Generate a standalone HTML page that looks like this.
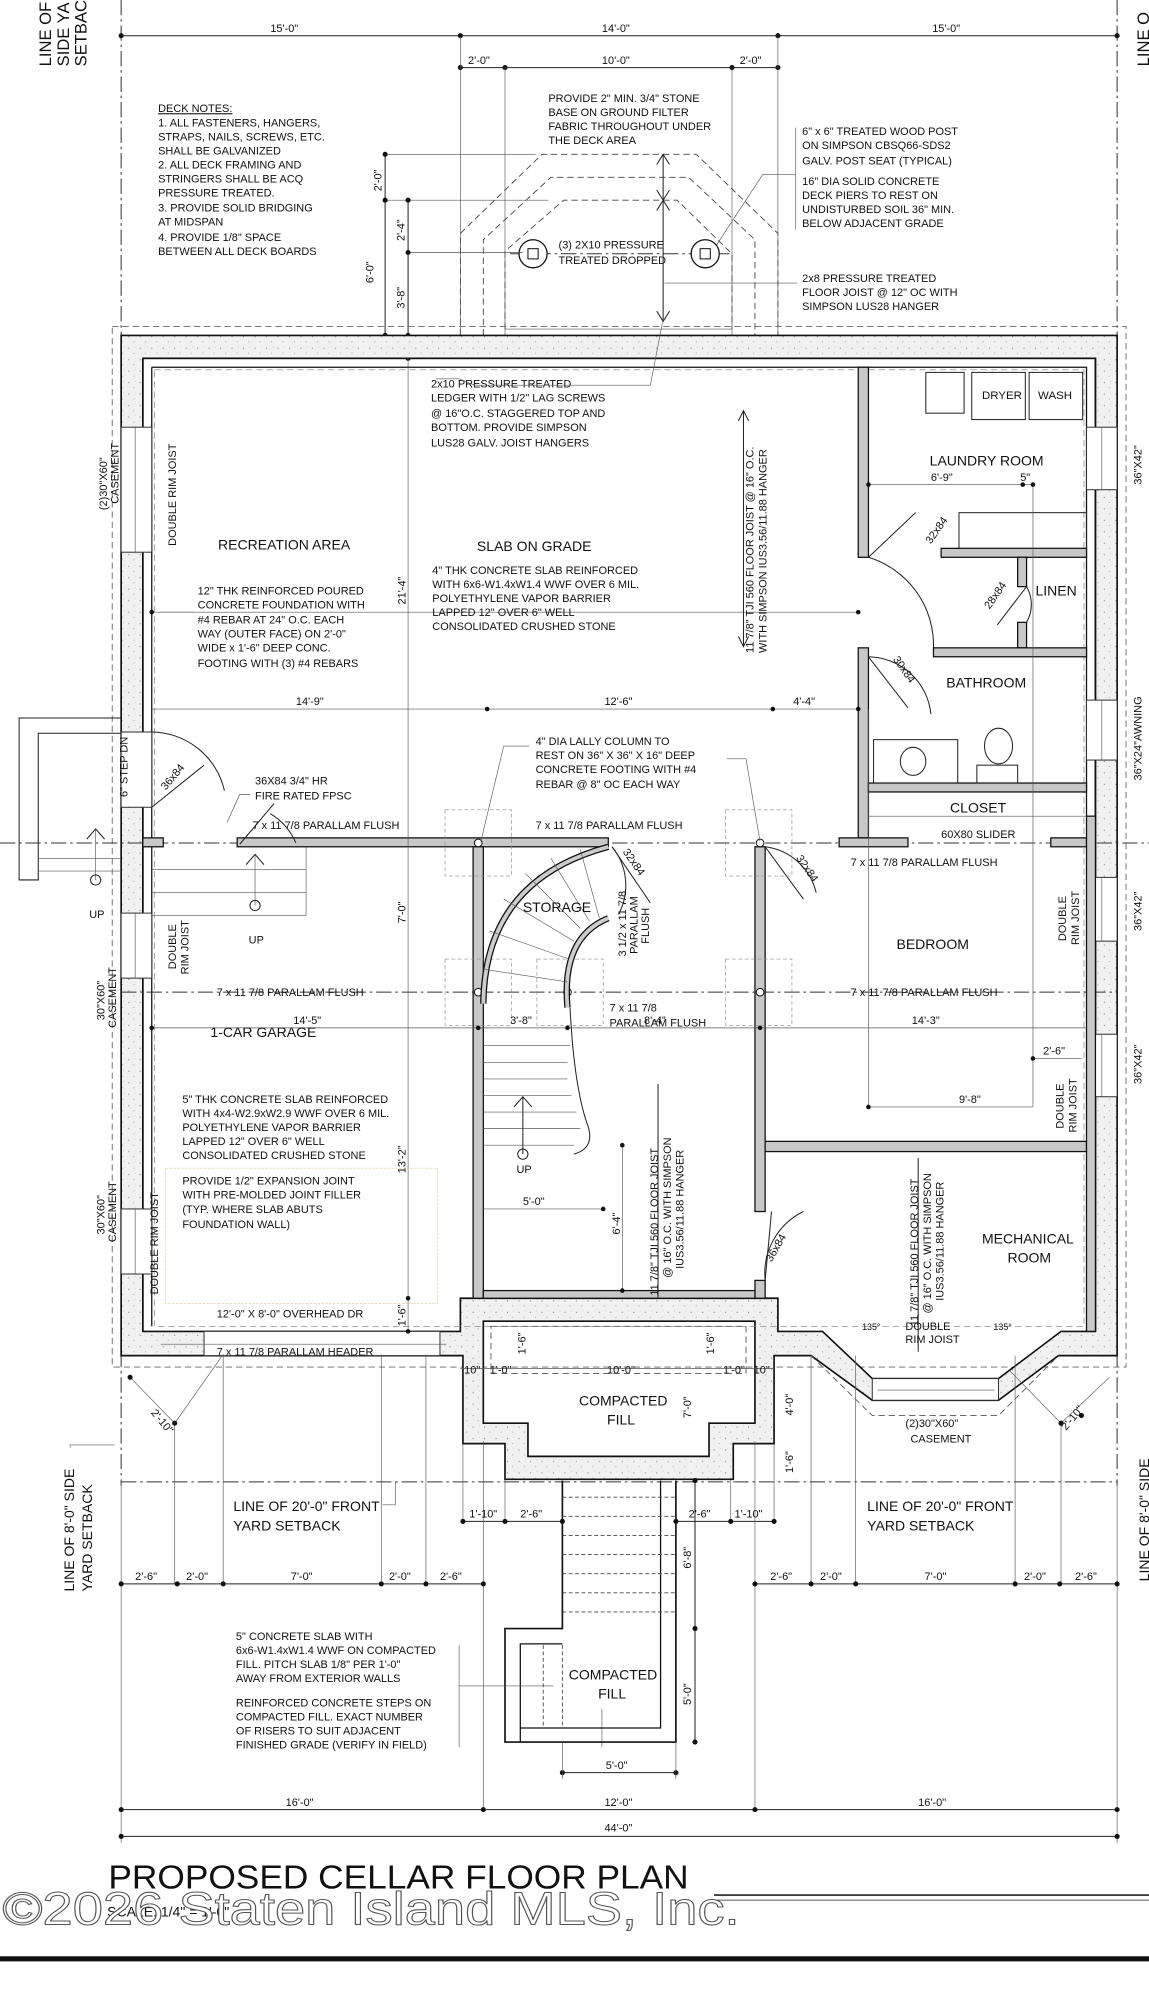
<!DOCTYPE html>
<html><head><meta charset="utf-8"><style>
html,body{margin:0;padding:0;background:#fff}
svg{display:block}
text{font-family:"Liberation Sans Narrow","Liberation Sans",sans-serif;fill:#111}
.n{font-size:8.6px}
.r{font-size:11px}
.d{font-size:8.6px}
.ln{stroke:#222;stroke-width:0.8;fill:none}
.th{stroke:#555;stroke-width:0.5;fill:none}
.dash{stroke:#444;stroke-width:0.7;fill:none;stroke-dasharray:5 3}
.dd{stroke:#333;stroke-width:0.8;fill:none;stroke-dasharray:12 3 2 3}
.w{fill:#c8c8c8;stroke:#111;stroke-width:1}
</style></head><body>
<svg width="1149" height="1999" viewBox="0 0 901 1567.5" preserveAspectRatio="none" xmlns="http://www.w3.org/2000/svg">
<defs>
<pattern id="stip" width="9" height="9" patternUnits="userSpaceOnUse">
<rect width="9" height="9" fill="#f1f1f1"/>
<circle cx="2" cy="3" r="0.5" fill="#888"/><circle cx="6" cy="7" r="0.4" fill="#999"/><circle cx="7" cy="2" r="0.3" fill="#aaa"/>
</pattern>
</defs>
<rect width="901" height="1567.5" fill="#fff"/>

<line x1="95" y1="0" x2="95" y2="1165" class="dd"/>
<line x1="876" y1="0" x2="876" y2="1165" class="dd"/>
<text transform="translate(40,52) rotate(-90)" style="font-size:13px;font-family:'Liberation Sans',sans-serif">LINE OF</text>
<text transform="translate(54,52) rotate(-90)" style="font-size:13px;font-family:'Liberation Sans',sans-serif">SIDE YA</text>
<text transform="translate(68,52) rotate(-90)" style="font-size:13px;font-family:'Liberation Sans',sans-serif">SETBAC</text>
<text transform="translate(901,52) rotate(-90)" style="font-size:13px;font-family:'Liberation Sans',sans-serif">LINE O</text>

<line x1="95" y1="28" x2="876" y2="28" class="ln"/>
<g fill="#111"><circle cx="95" cy="28" r="2"/><circle cx="361" cy="28" r="2"/><circle cx="610" cy="28" r="2"/><circle cx="876" cy="28" r="2"/>
<circle cx="361" cy="53" r="2"/><circle cx="396" cy="53" r="2"/><circle cx="574" cy="53" r="2"/><circle cx="610" cy="53" r="2"/></g>
<text x="212" y="25" class="d">15'-0"</text><text x="472" y="25" class="d">14'-0"</text><text x="731" y="25" class="d">15'-0"</text>
<line x1="361" y1="53" x2="610" y2="53" class="ln"/>
<text x="367" y="50" class="d">2'-0"</text><text x="472" y="50" class="d">10'-0"</text><text x="580" y="50" class="d">2'-0"</text>
<g class="th"><line x1="361" y1="28" x2="361" y2="263"/><line x1="396" y1="53" x2="396" y2="263"/><line x1="574" y1="53" x2="574" y2="263"/><line x1="610" y1="28" x2="610" y2="263"/></g>

<g class="n">
<text x="124" y="88" style="text-decoration:underline">DECK NOTES:</text>
<text x="124" y="99">1.  ALL FASTENERS, HANGERS,</text>
<text x="124" y="110">STRAPS, NAILS, SCREWS, ETC.</text>
<text x="124" y="121">SHALL BE GALVANIZED</text>
<text x="124" y="132">2. ALL DECK FRAMING AND</text>
<text x="124" y="143">STRINGERS SHALL BE ACQ</text>
<text x="124" y="154">PRESSURE TREATED.</text>
<text x="124" y="166">3.  PROVIDE SOLID BRIDGING</text>
<text x="124" y="177">AT MIDSPAN</text>
<text x="124" y="189">4.  PROVIDE 1/8" SPACE</text>
<text x="124" y="200">BETWEEN ALL DECK BOARDS</text>
<text x="430" y="80">PROVIDE 2" MIN. 3/4" STONE</text>
<text x="430" y="91">BASE ON GROUND FILTER</text>
<text x="430" y="102">FABRIC THROUGHOUT UNDER</text>
<text x="430" y="113">THE DECK AREA</text>
<text x="629" y="106">6" x 6" TREATED WOOD POST</text>
<text x="629" y="117">ON SIMPSON CBSQ66-SDS2</text>
<text x="629" y="129">GALV. POST SEAT (TYPICAL)</text>
<text x="629" y="145">16" DIA SOLID CONCRETE</text>
<text x="629" y="156">DECK PIERS TO REST ON</text>
<text x="629" y="167">UNDISTURBED SOIL 36" MIN.</text>
<text x="629" y="178">BELOW ADJACENT GRADE</text>
<text x="629" y="221">2x8 PRESSURE TREATED</text>
<text x="629" y="232">FLOOR JOIST @ 12" OC WITH</text>
<text x="629" y="243">SIMPSON LUS28 HANGER</text>
<text x="438" y="195">(3) 2X10 PRESSURE</text>
<text x="438" y="207">TREATED DROPPED</text>
</g>
<line x1="624" y1="100" x2="624" y2="180" class="th"/>
<polyline points="624,137 598,137 560,195" class="th"/>
<line x1="521" y1="222" x2="625" y2="222" class="th"/>

<polyline points="361,263 361,183 425,121 546,121 610,183 610,263" class="dash"/>
<polyline points="379,263 379,188 432,139 540,139 592,188 592,263" class="dash"/>
<polyline points="396,258 396,197 442,157 531,157 574,199 574,258" class="dash"/>
<line x1="396" y1="258" x2="574" y2="258" class="th"/>
<line x1="400" y1="199" x2="575" y2="199" class="dd"/>
<g stroke="#111" stroke-width="1" fill="#fff"><circle cx="418" cy="199" r="11"/><circle cx="553" cy="199" r="11"/></g>
<g stroke="#111" stroke-width="0.8" fill="none"><rect x="414" y="195" width="8" height="8"/><rect x="549" y="195" width="8" height="8"/></g>
<line x1="520" y1="121" x2="520" y2="252" class="ln"/>
<g class="ln"><polyline points="515,129 520,121 525,129"/><polyline points="515,149 520,157 525,149"/><polyline points="515,165 520,157 525,165"/><polyline points="515,244 520,252 525,244"/></g>
<line x1="302" y1="121" x2="302" y2="263" class="ln"/><line x1="320" y1="157" x2="320" y2="263" class="ln"/>
<line x1="302" y1="121" x2="420" y2="121" class="th"/><line x1="302" y1="157" x2="430" y2="157" class="th"/><line x1="320" y1="198" x2="410" y2="198" class="th"/>
<g fill="#111"><circle cx="302" cy="121" r="2"/><circle cx="302" cy="157" r="2"/><circle cx="302" cy="263" r="2"/><circle cx="320" cy="157" r="2"/><circle cx="320" cy="198" r="2"/><circle cx="320" cy="263" r="2"/><circle cx="320" cy="281" r="2"/></g>
<text transform="translate(299,150) rotate(-90)" class="d">2'-0"</text>
<text transform="translate(293,222) rotate(-90)" class="d">6'-0"</text>
<text transform="translate(317,189) rotate(-90)" class="d">2'-4"</text>
<text transform="translate(317,242) rotate(-90)" class="d">3'-8"</text>

<rect x="88" y="256" width="795" height="816" class="dash" style="stroke:#666"/>
<path fill-rule="evenodd" fill="url(#stip)" stroke="#111" stroke-width="1.3" d="M95,263 H876 V1063 H830 L783,1098 H684 L636,1063 H607 V1132 H575 V1160 H396 V1132 H363 V1063 H95 Z M112,281 H859 V1044 H832 L783,1081 H684 L645,1044 H610 V1018 H361 V1044 H112 Z M379,1036 H592 V1116 H556 V1142 H414 V1116 H379 Z"/>
<path d="M112,281 H859 V1044 M112,281 V1044" stroke="#111" stroke-width="1.2" fill="none"/>
<path d="M119,288 H852 V640 M119,288 V1040" stroke="#111" stroke-width="1" fill="none"/>
<rect x="121" y="290" width="729" height="750" class="dash" style="stroke:#777;stroke-width:0.5"/>

<g fill="#fff" stroke="#333" stroke-width="0.8">
<rect x="95" y="335" width="24" height="98"/><rect x="95" y="716" width="24" height="51"/><rect x="95" y="948" width="24" height="51"/>
<rect x="95" y="574" width="24" height="59"/>
<rect x="852" y="335" width="24" height="49"/><rect x="852" y="549" width="24" height="47"/><rect x="852" y="688" width="24" height="50"/><rect x="852" y="811" width="24" height="49"/>
<rect x="684" y="1081" width="99" height="17"/>
<rect x="160" y="1044" width="185" height="19"/>
</g>
<g class="th"><line x1="106" y1="335" x2="106" y2="433"/><line x1="106" y1="716" x2="106" y2="767"/><line x1="106" y1="948" x2="106" y2="999"/><line x1="864" y1="335" x2="864" y2="384"/><line x1="864" y1="549" x2="864" y2="596"/><line x1="864" y1="688" x2="864" y2="738"/><line x1="864" y1="811" x2="864" y2="860"/><line x1="688" y1="1090" x2="780" y2="1090"/><line x1="126" y1="1054" x2="350" y2="1054"/></g>

<line x1="0" y1="661" x2="901" y2="661" class="dd"/>
<line x1="95" y1="778" x2="876" y2="778" class="dd"/>

<g class="w">
<rect x="673" y="288" width="8" height="149"/><rect x="673" y="508" width="8" height="149"/>
<rect x="738" y="430" width="114" height="7"/><rect x="798" y="437" width="7" height="23"/><rect x="798" y="488" width="7" height="20"/>
<rect x="732" y="508" width="120" height="7"/><rect x="681" y="614" width="171" height="7"/>
<rect x="658" y="657" width="54" height="7"/><rect x="824" y="657" width="28" height="7"/>
<rect x="112" y="657" width="16" height="7"/><rect x="186" y="657" width="291" height="7"/>
<rect x="371" y="664" width="8" height="354"/><rect x="592" y="664" width="8" height="286"/><rect x="592" y="1004" width="8" height="14"/>
<rect x="379" y="1012" width="213" height="6"/><rect x="600" y="895" width="252" height="8"/>
<rect x="852" y="640" width="7" height="404"/>
</g>
<line x1="681" y1="640" x2="852" y2="640" class="th"/>
<g class="ln"><rect x="726" y="292" width="30" height="32"/><rect x="762" y="292" width="42" height="37"/><rect x="807" y="292" width="42" height="37"/><rect x="752" y="402" width="100" height="28"/><rect x="685" y="580" width="66" height="34"/><rect x="766" y="600" width="32" height="14"/><ellipse cx="783" cy="585" rx="11" ry="14"/><ellipse cx="716" cy="597" rx="10" ry="11"/></g>
<g class="ln">
<path d="M681,437 A72,72 0 0 1 732,508"/><line x1="681" y1="437" x2="718" y2="402"/>
<path d="M805,460 A28,28 0 0 1 805,488"/><line x1="805" y1="460" x2="782" y2="490"/>
<path d="M681,515 A50,50 0 0 1 730,560"/><line x1="681" y1="515" x2="712" y2="555"/>
<path d="M119,574 A59,59 0 0 1 176,620"/><line x1="119" y1="633" x2="160" y2="600"/>
<path d="M212,638 A49,49 0 0 1 232,661"/><line x1="188" y1="662" x2="215" y2="630"/>
<path d="M480,664 A48,48 0 0 1 485,717"/><line x1="480" y1="664" x2="510" y2="708"/>
<path d="M600,664 A47,47 0 0 1 640,700"/><line x1="600" y1="664" x2="630" y2="705"/>
<path d="M600,1004 A54,54 0 0 1 630,950"/><line x1="600" y1="1004" x2="605" y2="950"/>
</g>
<g class="ln" stroke-width="1.2">
<polyline points="95,563 15,563 15,690 30,690 30,575 95,575"/>
</g>
<g class="th"><line x1="30" y1="673" x2="95" y2="673"/><line x1="30" y1="683" x2="95" y2="683"/><line x1="119" y1="700" x2="240" y2="700"/><line x1="119" y1="682" x2="240" y2="682"/><line x1="240" y1="664" x2="240" y2="718"/><line x1="119" y1="718" x2="240" y2="718"/><line x1="75" y1="650" x2="75" y2="690"/><line x1="200" y1="670" x2="200" y2="710"/></g>
<g class="ln"><polyline points="68,658 75,650 82,658"/><polyline points="193,678 200,670 207,678"/><circle cx="75" cy="690" r="4"/><circle cx="200" cy="710" r="4"/></g>
<text x="70" y="720" class="n">UP</text><text x="195" y="740" class="n">UP</text>
<text transform="translate(100,625) rotate(-90)" class="n">6" STEP DN</text>

<g class="dash" style="stroke:#888;stroke-width:0.5;stroke-dasharray:3 2">
<rect x="349" y="635" width="52" height="52"/><rect x="569" y="635" width="52" height="52"/>
<rect x="349" y="752" width="52" height="52"/><rect x="421" y="752" width="52" height="52"/><rect x="569" y="752" width="52" height="52"/>
</g>
<g stroke="#111" fill="#fff" stroke-width="0.8"><circle cx="375" cy="661" r="3"/><circle cx="596" cy="661" r="3"/><circle cx="375" cy="778" r="3"/><circle cx="445" cy="778" r="3"/><circle cx="596" cy="778" r="3"/></g>

<path d="M379,787 Q380,690 477,664" stroke="#111" stroke-width="5" fill="none"/>
<path d="M379,787 Q380,690 477,664" stroke="#ccc" stroke-width="3" fill="none"/>
<path d="M445,790 Q440,735 477,720" stroke="#111" stroke-width="5" fill="none"/>
<path d="M445,790 Q440,735 477,720" stroke="#ccc" stroke-width="3" fill="none"/>
<g class="th"><line x1="379" y1="760" x2="445" y2="770"/><line x1="384" y1="730" x2="446" y2="752"/><line x1="395" y1="705" x2="450" y2="738"/><line x1="412" y1="685" x2="455" y2="728"/><line x1="432" y1="673" x2="462" y2="722"/><line x1="455" y1="666" x2="470" y2="720"/>
<line x1="379" y1="820" x2="447" y2="820"/><line x1="379" y1="833" x2="445" y2="833"/><line x1="379" y1="846" x2="445" y2="846"/><line x1="379" y1="859" x2="448" y2="859"/><line x1="379" y1="872" x2="452" y2="872"/><line x1="379" y1="885" x2="455" y2="885"/><line x1="379" y1="898" x2="450" y2="898"/></g>
<path d="M447,790 Q450,850 460,880 Q468,900 450,905" class="ln"/>
<line x1="410" y1="860" x2="410" y2="905" class="ln"/><polyline points="403,868 410,860 417,868" class="ln"/><circle cx="410" cy="905" r="4" class="ln"/>
<text x="405" y="920" class="n">UP</text>

<g class="th">
<line x1="119" y1="556" x2="673" y2="556"/><line x1="119" y1="480" x2="673" y2="480"/>
<line x1="119" y1="806" x2="852" y2="806"/>
<line x1="681" y1="380" x2="810" y2="380"/>
<line x1="681" y1="868" x2="810" y2="868"/>
<line x1="810" y1="830" x2="848" y2="830"/>
<line x1="320" y1="281" x2="320" y2="1044"/>
<line x1="379" y1="948" x2="473" y2="948"/>
<line x1="488" y1="898" x2="488" y2="1012"/>
<line x1="810" y1="380" x2="810" y2="868"/><line x1="681" y1="556" x2="681" y2="868"/>
</g>
<g fill="#111"><circle cx="119" cy="480" r="1.8"/><circle cx="673" cy="480" r="1.8"/><circle cx="382" cy="556" r="1.8"/><circle cx="606" cy="556" r="1.8"/><circle cx="673" cy="556" r="1.8"/>
<circle cx="119" cy="806" r="1.8"/><circle cx="375" cy="806" r="1.8"/><circle cx="445" cy="806" r="1.8"/><circle cx="596" cy="806" r="1.8"/>
<circle cx="681" cy="380" r="1.8"/><circle cx="802" cy="380" r="1.8"/><circle cx="810" cy="380" r="1.8"/><circle cx="681" cy="868" r="1.8"/><circle cx="810" cy="830" r="1.8"/>
<circle cx="473" cy="948" r="1.8"/><circle cx="488" cy="898" r="1.8"/><circle cx="488" cy="1012" r="1.8"/><circle cx="320" cy="1044" r="1.8"/><circle cx="320" cy="1018" r="1.8"/></g>
<g class="d">
<text x="232" y="553">14'-9"</text><text x="474" y="553">12'-6"</text><text x="622" y="553">4'-4"</text>
<text x="230" y="803">14'-5"</text><text x="400" y="803">3'-8"</text><text x="505" y="803">8'-4"</text><text x="715" y="803">14'-3"</text>
<text x="730" y="377">6'-9"</text><text x="800" y="377">5"</text>
<text x="752" y="865">9'-8"</text><text x="818" y="827">2'-6"</text><text x="410" y="945">5'-0"</text>
<text transform="translate(318,474) rotate(-90)">21'-4"</text>
<text transform="translate(318,724) rotate(-90)">7'-0"</text>
<text transform="translate(318,920) rotate(-90)">13'-2"</text>
<text transform="translate(486,968) rotate(-90)">6'-4"</text>
<text transform="translate(318,1040) rotate(-90)">1'-6"</text>
</g>

<g class="r">
<text x="171" y="431">RECREATION AREA</text><text x="374" y="432">SLAB ON GRADE</text>
<text x="729" y="365">LAUNDRY ROOM</text><text x="812" y="467">LINEN</text><text x="742" y="539">BATHROOM</text>
<text x="745" y="637">CLOSET</text><text x="410" y="715">STORAGE</text><text x="703" y="744">BEDROOM</text>
<text x="165" y="813">1-CAR GARAGE</text><text x="770" y="975">MECHANICAL</text><text x="790" y="990">ROOM</text>
<text x="454" y="1102">COMPACTED</text><text x="476" y="1117">FILL</text>
<text x="446" y="1317">COMPACTED</text><text x="469" y="1332">FILL</text>
<text x="770" y="313" style="font-size:9px">DRYER</text><text x="814" y="313" style="font-size:9px">WASH</text>
</g>
<g class="n">
<text x="338" y="304">2x10 PRESSURE TREATED</text><text x="338" y="315">LEDGER WITH 1/2" LAG SCREWS</text><text x="338" y="327">@ 16"O.C. STAGGERED TOP AND</text><text x="338" y="338">BOTTOM. PROVIDE SIMPSON</text><text x="338" y="350">LUS28 GALV. JOIST HANGERS</text>
<text x="339" y="450">4" THK CONCRETE SLAB REINFORCED</text><text x="339" y="461">WITH 6x6-W1.4xW1.4 WWF OVER 6 MIL.</text><text x="339" y="472">POLYETHYLENE VAPOR BARRIER</text><text x="339" y="483">LAPPED 12" OVER 6" WELL</text><text x="339" y="494">CONSOLIDATED CRUSHED STONE</text>
<text x="155" y="466">12" THK REINFORCED POURED</text><text x="155" y="477">CONCRETE FOUNDATION WITH</text><text x="155" y="489">#4 REBAR AT 24" O.C. EACH</text><text x="155" y="500">WAY (OUTER FACE) ON 2'-0"</text><text x="155" y="511">WIDE x 1'-6" DEEP CONC.</text><text x="155" y="523">FOOTING WITH (3) #4 REBARS</text>
<text x="420" y="584">4" DIA LALLY COLUMN TO</text><text x="420" y="595">REST ON 36" X 36" X 16" DEEP</text><text x="420" y="606">CONCRETE FOOTING WITH #4</text><text x="420" y="618">REBAR @ 8" OC EACH WAY</text>
<text x="200" y="615">36X84 3/4" HR</text><text x="200" y="627">FIRE RATED FPSC</text>
<text x="198" y="650">7 x 11 7/8 PARALLAM FLUSH</text><text x="420" y="650">7 x 11 7/8 PARALLAM FLUSH</text>
<text x="667" y="679">7 x 11 7/8 PARALLAM FLUSH</text><text x="738" y="657">60X80 SLIDER</text>
<text x="170" y="781">7 x 11 7/8 PARALLAM FLUSH</text><text x="667" y="781">7 x 11 7/8 PARALLAM FLUSH</text>
<text x="478" y="793">7 x 11 7/8</text><text x="478" y="805">PARALLAM FLUSH</text>
<text x="143" y="865">5" THK CONCRETE SLAB REINFORCED</text><text x="143" y="876">WITH 4x4-W2.9xW2.9 WWF OVER 6 MIL.</text><text x="143" y="887">POLYETHYLENE VAPOR BARRIER</text><text x="143" y="898">LAPPED 12" OVER 6" WELL</text><text x="143" y="909">CONSOLIDATED CRUSHED STONE</text>
<text x="143" y="929">PROVIDE 1/2" EXPANSION JOINT</text><text x="143" y="940">WITH PRE-MOLDED JOINT FILLER</text><text x="143" y="951">(TYP. WHERE SLAB ABUTS</text><text x="143" y="963">FOUNDATION WALL)</text>
<text x="170" y="1033">12'-0" X 8'-0" OVERHEAD DR</text><text x="170" y="1063">7 x 11 7/8 PARALLAM HEADER</text>
<text x="710" y="1043">DOUBLE</text><text x="710" y="1053">RIM JOIST</text>
<text x="710" y="1119">(2)30"X60"</text><text x="714" y="1131">CASEMENT</text>
<text x="676" y="1043" style="font-size:7px">135°</text><text x="779" y="1043" style="font-size:7px">135°</text>
<text x="185" y="1286">5" CONCRETE SLAB WITH</text><text x="185" y="1297">6x6-W1.4xW1.4 WWF ON COMPACTED</text><text x="185" y="1308">FILL. PITCH SLAB 1/8" PER 1'-0"</text><text x="185" y="1319">AWAY FROM EXTERIOR WALLS</text>
<text x="185" y="1338">REINFORCED CONCRETE STEPS ON</text><text x="185" y="1349">COMPACTED FILL. EXACT NUMBER</text><text x="185" y="1360">OF RISERS TO SUIT ADJACENT</text><text x="185" y="1371">FINISHED GRADE (VERIFY IN FIELD)</text>
</g>
<g class="n">
<text transform="translate(138,428) rotate(-90)">DOUBLE RIM JOIST</text>
<text transform="translate(138,760) rotate(-90)">DOUBLE</text><text transform="translate(148,764) rotate(-90)">RIM JOIST</text>
<text transform="translate(124,1015) rotate(-90)">DOUBLE RIM JOIST</text>
<text transform="translate(836,738) rotate(-90)">DOUBLE</text><text transform="translate(846,741) rotate(-90)">RIM JOIST</text>
<text transform="translate(834,885) rotate(-90)">DOUBLE</text><text transform="translate(844,888) rotate(-90)">RIM JOIST</text>
<text transform="translate(591,512) rotate(-90)">11 7/8" TJI 560 FLOOR JOIST @ 16" O.C.</text><text transform="translate(601,512) rotate(-90)">WITH SIMPSON IUS3.56/11.88 HANGER</text>
<text transform="translate(516,1016) rotate(-90)">11 7/8" TJI 560 FLOOR JOIST</text><text transform="translate(526,1002) rotate(-90)">@ 16" O.C. WITH SIMPSON</text><text transform="translate(536,995) rotate(-90)">IUS3.56/11.88 HANGER</text>
<text transform="translate(720,1040) rotate(-90)">11 7/8" TJI 560 FLOOR JOIST</text><text transform="translate(730,1030) rotate(-90)">@ 16" O.C. WITH SIMPSON</text><text transform="translate(740,1020) rotate(-90)">IUS3.56/11.88 HANGER</text>
<text transform="translate(491,750) rotate(-90)">3 1/2 x 11 7/8</text><text transform="translate(500,748) rotate(-90)">PARALLAM</text><text transform="translate(509,740) rotate(-90)">FLUSH</text>
<text transform="translate(84,400) rotate(-90)">(2)30"X60"</text><text transform="translate(93,395) rotate(-90)">CASEMENT</text>
<text transform="translate(82,800) rotate(-90)">30"X60"</text><text transform="translate(91,806) rotate(-90)">CASEMENT</text>
<text transform="translate(82,968) rotate(-90)">30"X60"</text><text transform="translate(91,974) rotate(-90)">CASEMENT</text>
<text transform="translate(895,380) rotate(-90)">36"X42"</text><text transform="translate(895,612) rotate(-90)">36"X24"AWNING</text><text transform="translate(895,730) rotate(-90)">36"X42"</text><text transform="translate(895,850) rotate(-90)">36"X42"</text>
<text transform="translate(730,427) rotate(-55)">32x84</text><text transform="translate(776,478) rotate(-55)">28x84</text><text transform="translate(700,517) rotate(55)">30x84</text>
<text transform="translate(130,620) rotate(-50)">36x84</text><text transform="translate(488,668) rotate(55)">32x84</text><text transform="translate(624,673) rotate(55)">32x84</text><text transform="translate(605,990) rotate(-60)">36x84</text>
</g>
<g class="ln"><line x1="583" y1="322" x2="583" y2="507"/><polyline points="579,330 583,322 587,330"/><polyline points="579,499 583,507 587,499"/>
<line x1="516" y1="850" x2="516" y2="1018"/><line x1="720" y1="908" x2="720" y2="1060"/></g>
<polyline points="342,297 360,297 372,302 510,302 520,250" class="th"/>
<polyline points="415,585 395,585 377,660" class="th"/><polyline points="570,595 585,595 596,660" class="th"/>
<polyline points="196,623 188,623 178,645" class="th"/>
<line x1="125" y1="480" x2="152" y2="480" class="th"/>
<line x1="472" y1="1370" x2="472" y2="1340" class="th"/>
<rect x="130" y="916" width="213" height="106" style="fill:none;stroke:#d8c8a0;stroke-width:0.5;stroke-dasharray:2 1"/>

<g class="dash" style="stroke:#555"><rect x="385" y="1040" width="200" height="37"/><polyline points="636,1063 684,1110 783,1110 830,1063"/></g>
<line x1="95" y1="1162" x2="876" y2="1162" class="dd"/>
<g class="th"><line x1="361" y1="1073" x2="607" y2="1073"/></g>
<g class="d"><text x="364" y="1077">10"</text><text x="384" y="1077">1'-0"</text><text x="476" y="1077">10'-0"</text><text x="567" y="1077">1'-0"</text><text x="591" y="1077">10"</text>
<text transform="translate(412,1062) rotate(-90)">1'-6"</text><text transform="translate(560,1062) rotate(-90)">1'-6"</text><text transform="translate(542,1112) rotate(-90)">7'-0"</text><text transform="translate(622,1110) rotate(-90)">4'-0"</text><text transform="translate(622,1155) rotate(-90)">1'-6"</text>
<text transform="translate(118,1108) rotate(50)">2'-10"</text><text transform="translate(836,1122) rotate(-50)">2'-10"</text></g>
<g class="th"><polyline points="102,1080 137,1116 175,1062"/><polyline points="870,1080 832,1116 792,1075"/><line x1="137" y1="1116" x2="137" y2="1242"/><line x1="832" y1="1116" x2="832" y2="1242"/></g>
<g fill="#111"><circle cx="137" cy="1116" r="2"/><circle cx="832" cy="1116" r="2"/><circle cx="102" cy="1080" r="2"/><circle cx="848" cy="1110" r="2"/></g>

<path d="M441,1161 V1277 H396 V1366 H530 V1161" stroke="#111" stroke-width="1.3" fill="none"/>
<path d="M408,1366 V1289 H441 M408,1355 H518 V1161" stroke="#111" stroke-width="1" fill="none"/>
<g class="dash" style="stroke-dasharray:3 2"><line x1="441" y1="1174" x2="530" y2="1174"/><line x1="441" y1="1189" x2="530" y2="1189"/><line x1="441" y1="1204" x2="530" y2="1204"/><line x1="441" y1="1219" x2="530" y2="1219"/><line x1="441" y1="1234" x2="530" y2="1234"/><line x1="441" y1="1249" x2="530" y2="1249"/><line x1="441" y1="1264" x2="530" y2="1264"/><line x1="426" y1="1290" x2="426" y2="1355"/><line x1="441" y1="1290" x2="441" y2="1355"/></g>
<line x1="360" y1="1322" x2="434" y2="1322" class="th"/>
<line x1="360" y1="1290" x2="360" y2="1370" class="th"/>
<g class="ln"><line x1="545" y1="1161" x2="545" y2="1366"/><line x1="441" y1="1390" x2="530" y2="1390"/></g>
<g fill="#111"><circle cx="545" cy="1161" r="2"/><circle cx="545" cy="1277" r="2"/><circle cx="545" cy="1366" r="2"/><circle cx="441" cy="1390" r="2"/><circle cx="530" cy="1390" r="2"/></g>
<g class="d"><text transform="translate(542,1230) rotate(-90)">6'-8"</text><text transform="translate(542,1337) rotate(-90)">5'-0"</text><text x="475" y="1387">5'-0"</text></g>

<g style="font-size:11px">
<text x="183" y="1185">LINE OF 20'-0" FRONT</text><text x="183" y="1200">YARD SETBACK</text>
<text x="680" y="1185">LINE OF 20'-0" FRONT</text><text x="680" y="1200">YARD SETBACK</text>
</g>
<polyline points="300,1180 310,1180 310,1162" class="th"/>
<text transform="translate(58,1248) rotate(-90)" style="font-size:11px;font-family:'Liberation Sans',sans-serif">LINE OF 8'-0" SIDE</text>
<text transform="translate(72,1248) rotate(-90)" style="font-size:11px;font-family:'Liberation Sans',sans-serif">YARD SETBACK</text>
<polyline points="55,1135 55,1133 90,1133" class="th"/>
<text transform="translate(901,1240) rotate(-90)" style="font-size:11px;font-family:'Liberation Sans',sans-serif">LINE OF 8'-0" SIDE</text>

<g class="ln"><line x1="363" y1="1193" x2="441" y2="1193"/><line x1="530" y1="1193" x2="607" y2="1193"/>
<line x1="95" y1="1242" x2="379" y2="1242"/><line x1="592" y1="1242" x2="876" y2="1242"/>
<line x1="95" y1="1419" x2="876" y2="1419"/><line x1="95" y1="1440" x2="876" y2="1440"/></g>
<g class="th"><line x1="95" y1="1162" x2="95" y2="1445"/><line x1="876" y1="1162" x2="876" y2="1445"/><line x1="379" y1="1130" x2="379" y2="1419"/><line x1="592" y1="1130" x2="592" y2="1419"/>
<line x1="175" y1="1062" x2="175" y2="1242"/><line x1="299" y1="1062" x2="299" y2="1242"/><line x1="334" y1="1062" x2="334" y2="1242"/><line x1="363" y1="1132" x2="363" y2="1193"/><line x1="396" y1="1160" x2="396" y2="1193"/><line x1="441" y1="1366" x2="441" y2="1395"/><line x1="530" y1="1366" x2="530" y2="1395"/><line x1="573" y1="1160" x2="573" y2="1193"/><line x1="607" y1="1132" x2="607" y2="1193"/>
<line x1="636" y1="1063" x2="636" y2="1242"/><line x1="671" y1="1063" x2="671" y2="1242"/><line x1="796" y1="1063" x2="796" y2="1242"/></g>
<g fill="#111">
<circle cx="363" cy="1193" r="2"/><circle cx="396" cy="1193" r="2"/><circle cx="441" cy="1193" r="2"/><circle cx="530" cy="1193" r="2"/><circle cx="573" cy="1193" r="2"/><circle cx="607" cy="1193" r="2"/>
<circle cx="95" cy="1242" r="2"/><circle cx="139" cy="1242" r="2"/><circle cx="175" cy="1242" r="2"/><circle cx="299" cy="1242" r="2"/><circle cx="334" cy="1242" r="2"/><circle cx="379" cy="1242" r="2"/>
<circle cx="592" cy="1242" r="2"/><circle cx="636" cy="1242" r="2"/><circle cx="671" cy="1242" r="2"/><circle cx="796" cy="1242" r="2"/><circle cx="831" cy="1242" r="2"/><circle cx="876" cy="1242" r="2"/>
<circle cx="95" cy="1419" r="2"/><circle cx="379" cy="1419" r="2"/><circle cx="592" cy="1419" r="2"/><circle cx="876" cy="1419" r="2"/><circle cx="95" cy="1440" r="2"/><circle cx="876" cy="1440" r="2"/></g>
<g class="d">
<text x="368" y="1190">1'-10"</text><text x="408" y="1190">2'-6"</text><text x="540" y="1190">2'-6"</text><text x="576" y="1190">1'-10"</text>
<text x="106" y="1239">2'-6"</text><text x="146" y="1239">2'-0"</text><text x="228" y="1239">7'-0"</text><text x="305" y="1239">2'-0"</text><text x="345" y="1239">2'-6"</text>
<text x="604" y="1239">2'-6"</text><text x="643" y="1239">2'-0"</text><text x="725" y="1239">7'-0"</text><text x="803" y="1239">2'-0"</text><text x="843" y="1239">2'-6"</text>
<text x="224" y="1416">16'-0"</text><text x="474" y="1416">12'-0"</text><text x="720" y="1416">16'-0"</text><text x="474" y="1436">44'-0"</text>
</g>

<text x="85" y="1481" textLength="455" lengthAdjust="spacingAndGlyphs" style="font-family:'Liberation Sans Narrow','Liberation Sans',sans-serif;font-size:26px">PROPOSED  CELLAR  FLOOR  PLAN</text>
<line x1="560" y1="1486" x2="901" y2="1486" stroke="#222" stroke-width="1.3"/>
<line x1="560" y1="1490" x2="901" y2="1490" stroke="#222" stroke-width="0.6"/>
<text x="84" y="1503" style="font-size:11px">SCALE: 1/4" = 1'-0"</text>
<text x="2" y="1509" textLength="578" lengthAdjust="spacingAndGlyphs" style="font-family:'Liberation Sans Narrow','Liberation Sans',sans-serif;font-size:36px;fill:#fff;stroke:#555;stroke-width:0.8">©2026 Staten Island MLS, Inc.</text>
<rect x="0" y="1534" width="901" height="4" fill="#111"/>
</svg>
</body></html>
